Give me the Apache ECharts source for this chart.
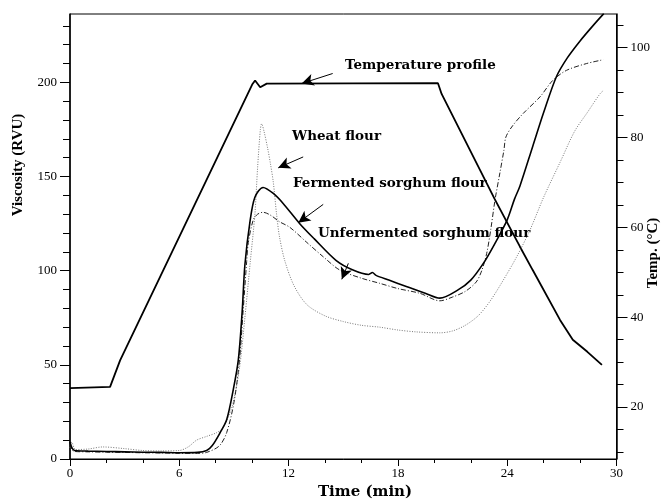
<!DOCTYPE html>
<html>
<head>
<meta charset="utf-8">
<script src="https://cdn.jsdelivr.net/npm/echarts@6/dist/echarts.min.js"></script>
<style>
html,body{margin:0;padding:0;background:#fff;}
#chart{width:668px;height:501px;}
</style>
</head>
<body>
<div id="chart"></div>
<script>
// ---- Data ----
// Time (min)
const fermentedTime = [0, 0.1, 0.25, 1, 2, 3, 4, 5, 6, 7, 7.5, 7.8, 8.23, 8.6, 8.96, 9.24, 9.45, 9.6, 9.88, 10.15, 10.6, 11.16, 11.7, 12.6, 13.4, 14.6, 15.5, 16.4, 16.6, 16.8, 17.5, 18.5, 19.5, 20.3, 21.3, 22.0, 22.7, 23.3, 24.0, 24.4, 24.7, 25.4, 26.0, 26.7, 27.3, 28.0, 28.7, 29.3];
const fermentedVisc = [9, 6, 4.5, 4.2, 4, 3.8, 3.6, 3.5, 3.3, 3.5, 4.5, 7, 13.8, 20.8, 36.7, 52.6, 78, 103, 126, 139, 144.2, 141, 135.7, 125.1, 117, 105.5, 100.5, 98, 99, 97.5, 95, 91.5, 88, 85.4, 89.8, 95, 104, 114, 127, 138, 145, 166, 184, 203, 213, 222, 230, 236.5];

const unfermentedTime = [0, 0.1, 0.25, 1, 2, 3, 4, 5, 6, 7, 7.5, 8.2, 8.6, 9.0, 9.3, 9.5, 9.7, 9.79, 10.06, 10.3, 10.6, 11.0, 11.5, 12.07, 13.0, 13.9, 14.8, 16.0, 17.0, 18.0, 19.2, 20.3, 21.0, 21.7, 22.3, 22.6, 22.87, 23.1, 23.33, 23.6, 23.82, 23.93, 24.3, 24.88, 25.8, 26.5, 27.26, 28.36, 29.27];
const unfermentedVisc = [8, 5, 4, 3.8, 3.6, 3.5, 3.3, 3.2, 3.0, 3.0, 3.5, 7, 14, 30, 52, 78, 105, 115, 127, 130, 131, 129.5, 126, 123, 115, 107.4, 100.4, 96, 93.3, 90.5, 88, 84, 86, 89, 94, 100, 109, 122, 137.5, 152, 164, 171, 177, 183.5, 192.3, 201, 206.4, 210, 212];

const wheatTime = [0, 0.1, 0.3, 1, 1.8, 3, 4, 5, 6, 6.5, 6.95, 7.5, 8.05, 8.4, 8.9, 9.3, 9.6, 9.9, 10.15, 10.3, 10.45, 10.52, 10.65, 10.85, 11.0, 11.16, 11.34, 11.5, 11.8, 12.3, 13.0, 14.0, 15.0, 16.0, 17.0, 18.0, 19.0, 20.3, 21.0, 21.7, 22.4, 23.0, 23.6, 24.5, 25.25, 26.0, 26.9, 27.7, 28.4, 29.1, 29.3];
const wheatVisc = [6, 9, 5, 5.3, 6.4, 5.5, 4.5, 4.3, 4.5, 6.5, 10, 12, 14, 16.6, 28, 48, 75, 105, 130, 155, 175, 178, 174, 165, 157, 147, 130, 118, 105, 92, 82, 76, 73, 71, 70, 68.5, 67.5, 67, 68, 71, 76, 83, 92, 107, 121.6, 139, 157.5, 174, 184, 194, 195.8];

// Temperature profile (°C, right axis)
const tempTime = [0, 2.2, 2.75, 10.0, 10.16, 10.44, 10.8, 20.2, 20.4, 23.3, 24.7, 25.4, 26.9, 27.6, 28.4, 29.2];
const tempValue = [24.2, 24.5, 30.4, 91.8, 92.7, 91.2, 92.0, 92.1, 89.7, 66.4, 55.7, 50.5, 39.4, 35.0, 32.3, 29.4];

// Axis ticks / labels
const xLabels = [0, 6, 12, 18, 24, 30];
const viscLabels = [0, 50, 100, 150, 200];
const viscMinorTicks = [10, 20, 30, 40, 60, 70, 80, 90, 110, 120, 130, 140, 160, 170, 180, 190, 210, 220, 230];
const tempLabels = [20, 40, 60, 80, 100];
const tempMinorTicks = [10, 15, 25, 30, 35, 45, 50, 55, 65, 70, 75, 85, 90, 95, 105];

// Annotation arrows (time, viscosity): tail -> head
const arrowTails = [[14.42, 204.7], [12.8, 160.4], [13.9, 135.2], [15.28, 103.9]];
const arrowHeads = [[12.72, 199.4], [11.43, 154.6], [12.53, 125.5], [14.92, 95.4]];
const annotationTexts = ['Temperature profile', 'Wheat flour', 'Fermented sorghum flour', 'Unfermented sorghum flour'];

// ---- Build ----
const zip = (a, b) => a.map((x, i) => [x, b[i]]);
const VMAX = 236.3, TMIN = 8.44, TMAX = 107.5;
const serif = 'Liberation Serif';

function hiddenAxis(pos, min, max, ticks, len) {
  return {
    type: 'value', position: pos, min: min, max: max, gridIndex: 0,
    axisLine: {show: false}, splitLine: {show: false},
    axisLabel: {show: false},
    axisTick: {show: true, length: len, customValues: ticks, lineStyle: {color: '#000', width: 1}}
  };
}

const chart = echarts.init(document.getElementById('chart'), null, {renderer: 'canvas'});
const option = {
  animation: false,
  backgroundColor: '#fff',
  grid: {left: 70, right: 51.5, top: 14, bottom: 42, containLabel: false, outerBoundsMode: 'none',
         show: true, borderColor: '#000', borderWidth: 1, backgroundColor: 'transparent'},
  xAxis: [{
    type: 'value', min: 0, max: 30, interval: 6,
    axisLine: {show: true, onZero: false, lineStyle: {color: '#000', width: 1}},
    axisTick: {show: true, length: 7, lineStyle: {color: '#000', width: 1}},
    minorTick: {show: true, splitNumber: 3, length: 4, lineStyle: {color: '#000', width: 1}},
    splitLine: {show: false}, minorSplitLine: {show: false},
    axisLabel: {color: '#000', fontFamily: serif, fontSize: 13, margin: 8,
      customValues: xLabels}
  }],
  yAxis: [
    {
      type: 'value', position: 'left', min: 0, max: VMAX,
      axisLine: {show: true, onZero: false, lineStyle: {color: '#000', width: 1.5}},
      axisTick: {show: true, length: 10, customValues: viscLabels, lineStyle: {color: '#000', width: 1}},
      splitLine: {show: false},
      axisLabel: {color: '#000', fontFamily: serif, fontSize: 13, margin: 13, customValues: viscLabels}
    },
    {
      type: 'value', position: 'right', min: TMIN, max: TMAX,
      axisLine: {show: true, onZero: false, lineStyle: {color: '#000', width: 1.5}},
      axisTick: {show: true, length: 11, customValues: tempLabels, lineStyle: {color: '#000', width: 1}},
      splitLine: {show: false},
      axisLabel: {color: '#000', fontFamily: serif, fontSize: 13, margin: 14, customValues: tempLabels}
    },
    hiddenAxis('left', 0, VMAX, viscMinorTicks, 7),
    hiddenAxis('right', TMIN, TMAX, tempMinorTicks, 7)
  ],
  series: [
    {
      name: 'Temperature profile', type: 'line', yAxisIndex: 1, data: zip(tempTime, tempValue),
      symbol: 'none', smooth: false, silent: true,
      lineStyle: {color: '#000', width: 1.8}
    },
    {
      name: 'Wheat flour', type: 'line', yAxisIndex: 0, data: zip(wheatTime, wheatVisc),
      symbol: 'none', smooth: 0.3, silent: true,
      lineStyle: {color: '#777', width: 1, type: [1, 1.5]}
    },
    {
      name: 'Unfermented sorghum flour', type: 'line', yAxisIndex: 0, data: zip(unfermentedTime, unfermentedVisc),
      symbol: 'none', smooth: 0.3, silent: true,
      lineStyle: {color: '#222', width: 1, type: [5, 2, 1, 2]}
    },
    {
      name: 'Fermented sorghum flour', type: 'line', yAxisIndex: 0, data: zip(fermentedTime, fermentedVisc),
      symbol: 'none', smooth: 0.3, silent: true,
      lineStyle: {color: '#000', width: 1.6},
      markLine: {
        silent: true, animation: false,
        symbol: ['none', 'arrow'], symbolSize: [9, 12],
        label: {show: false},
        lineStyle: {color: '#000', width: 1, type: 'solid'},
        emphasis: {disabled: true},
        data: arrowTails.map((t, i) => [{coord: t}, {coord: arrowHeads[i]}])
      }
    }
  ],
  graphic: [
    {type: 'text', x: 18, y: 165, rotation: Math.PI / 2,
     style: {text: 'Viscosity (RVU)', font: 'bold 15px "Liberation Serif"', fill: '#000', align: 'center', verticalAlign: 'middle'}},
    {type: 'text', x: 653, y: 253, rotation: Math.PI / 2,
     style: {text: 'Temp. (°C)', font: 'bold 15px "Liberation Serif"', fill: '#000', align: 'center', verticalAlign: 'middle'}},
    {type: 'text', x: 365, y: 492,
     style: {text: 'Time (min)', font: 'bold 15px "DejaVu Serif"', fill: '#000', align: 'center', verticalAlign: 'middle'}},
    {type: 'text', x: 345, y: 65,
     style: {text: annotationTexts[0], font: 'bold 13.5px "DejaVu Serif"', fill: '#000', align: 'left', verticalAlign: 'middle'}},
    {type: 'text', x: 292, y: 136,
     style: {text: annotationTexts[1], font: 'bold 13.5px "DejaVu Serif"', fill: '#000', align: 'left', verticalAlign: 'middle'}},
    {type: 'text', x: 293, y: 183,
     style: {text: annotationTexts[2], font: 'bold 13.5px "DejaVu Serif"', fill: '#000', align: 'left', verticalAlign: 'middle'}},
    {type: 'text', x: 318, y: 233,
     style: {text: annotationTexts[3], font: 'bold 13.5px "DejaVu Serif"', fill: '#000', align: 'left', verticalAlign: 'middle'}}
  ]
};
chart.setOption(option);
</script>
</body>
</html>
